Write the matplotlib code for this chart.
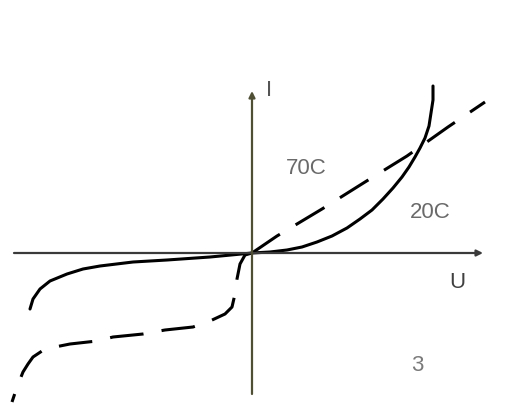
import matplotlib
matplotlib.use("Agg")
import matplotlib.pyplot as plt

# Current-voltage characteristic of a varistor at two temperatures
# Solid curve: 20C
u_20_left = [-222, -219, -212, -202, -185, -169, -152, -119, -85, -42, 0]
i_20_left = [-56, -46, -36, -28, -21, -16, -13, -9, -7, -4, 0]
u_20_right = [0, 18, 35, 50, 65, 80, 95, 108, 120, 131, 141, 150, 157, 163,
              168, 173, 177, 179, 181, 181]
i_20_right = [0, 1, 3, 6, 11, 17, 25, 34, 43, 54, 65, 76, 86, 96,
              105, 115, 127, 140, 153, 167]

# Dashed curve: 70C
u_70_right = [0, 25, 70, 113, 155, 196, 233]
i_70_right = [0, 17, 44, 71, 97, 126, 151]
u_70_left = [0, -7, -12, -15, -17, -20, -27, -42, -59, -87, -109, -139, -155,
             -182, -207, -219, -224, -229, -235, -240]
i_70_left = [0, -2, -11, -26, -41, -54, -61, -68, -74, -77, -81, -84, -88,
             -91, -96, -104, -111, -119, -134, -149]

label_font = ["Liberation Sans Narrow", "Liberation Sans", "DejaVu Sans"]

fig = plt.figure(figsize=(5.13, 4.10), dpi=100)
ax = fig.add_axes([0, 0, 1, 1])
ax.set_xlim(-252, 261)
ax.set_ylim(-156, 254)
ax.axis("off")

# Axes with arrows
ax.annotate("", xy=(231, 0), xytext=(-238, 0),
            arrowprops=dict(arrowstyle="-|>", color="#3a3a3a", lw=1.6,
                            mutation_scale=9, shrinkA=0, shrinkB=0))
ax.annotate("", xy=(0, 162), xytext=(0, -141),
            arrowprops=dict(arrowstyle="-|>", color="#4f4f36", lw=1.6,
                            mutation_scale=9, shrinkA=0, shrinkB=0))

lw = 2.2
ax.plot(u_20_left, i_20_left, color="black", lw=lw, solid_capstyle="round",
        solid_joinstyle="round")
ax.plot(u_20_right, i_20_right, color="black", lw=lw, solid_capstyle="round",
        solid_joinstyle="round")
ax.plot(u_70_right, i_70_right, color="black", lw=lw, dashes=(11, 6))
ax.plot(u_70_left, i_70_left, color="black", lw=lw, dashes=(11, 6),
        dash_joinstyle="round")

txt = dict(family=label_font, fontsize=16, ha="center", va="center")
ax.text(17, 163, "I", color="#555555", **txt)
ax.text(54, 86, "70C", color="#6a6a6a", **txt)
ax.text(178, 41, "20C", color="#6a6a6a", **txt)
ax.text(205, -28, "U", color="#404040", **txt)
ax.text(165, -112, "3", color="#7a7a7a", **txt)

fig.savefig("out.png", dpi=100)
